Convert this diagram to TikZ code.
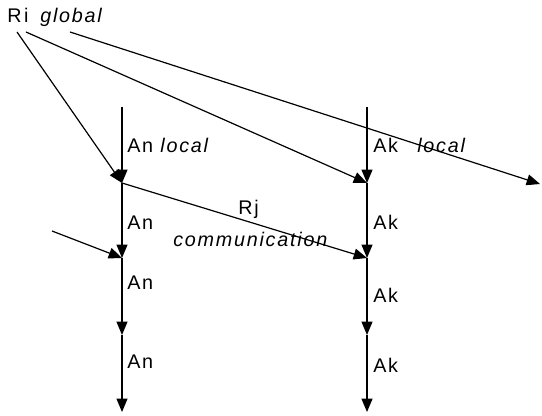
\documentclass[tikz,border=0pt]{standalone}
\usepackage{fontspec}
\setmainfont{Liberation Sans}[LetterSpace=9]
\usetikzlibrary{arrows.meta}
\begin{document}
\begin{tikzpicture}[x=0.75pt,y=-0.75pt,
  lbl/.style={anchor=base west,inner sep=0pt,font=\fontsize{14.8}{17}\selectfont},
  arr/.style={line width=0.9pt,-{Triangle[length=10pt,width=8.2pt]}}]
\useasboundingbox (0,0) rectangle (542,416);
% timeline points
\coordinate (n0) at (122,107);
\coordinate (n1) at (122,183);
\coordinate (n2) at (122,258);
\coordinate (n3) at (122,335);
\coordinate (n4) at (122,412);
\coordinate (k0) at (367,107);
\coordinate (k1) at (367,183);
\coordinate (k2) at (367,258);
\coordinate (k3) at (367,335);
\coordinate (k4) at (367,412);
% sources / free ends
\coordinate (r1) at (17,32);
\coordinate (r2) at (26,32);
\coordinate (r3) at (70,32);
\coordinate (e) at (540,184);
\coordinate (s) at (52,231);
% labels
\node[lbl] (ri) at (7,23) {R\kern2pt i};
\node[lbl] (glob) at (40,23) {\textit{global}};
\node[lbl] (an1) at (127,153) {An \textit{local}};
\node[lbl] (an2) at (127,230) {An};
\node[lbl] (an3) at (127,290) {An};
\node[lbl] (an4) at (127,368) {An};
\node[lbl] (ak1) at (373,153) {Ak};
\node[lbl] (loc) at (417,153) {\textit{local}};
\node[lbl] (ak2) at (373,230) {Ak};
\node[lbl] (ak3) at (373,303) {Ak};
\node[lbl] (ak4) at (373,372) {Ak};
\node[lbl] (rj) at (238,215) {Rj};
\node[lbl] (com) at (173,247) {\textit{communication}};
% vertical arrows
\draw[arr] (n0) -- (n1);
\draw[arr] (n1) -- (n2);
\draw[arr] (n2) -- (n3);
\draw[arr] (n3) -- (n4);
\draw[arr] (k0) -- (k1);
\draw[arr] (k1) -- (k2);
\draw[arr] (k2) -- (k3);
\draw[arr] (k3) -- (k4);
% global arrows
\draw[arr] (r1) -- (n1);
\draw[arr] (r2) -- (k1);
\draw[arr] (r3) -- (e);
% communication
\draw[arr] (n1) -- (k2);
\draw[arr] (s) -- (n2);
\end{tikzpicture}
\end{document}
